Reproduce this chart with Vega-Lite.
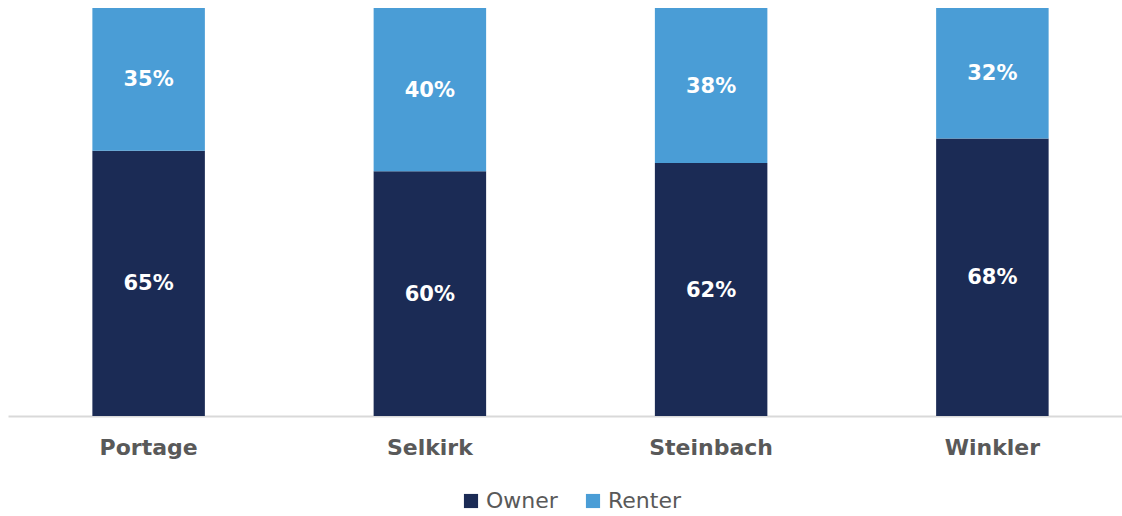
{
  "$schema": "https://vega.github.io/schema/vega-lite/v6.json",
  "width": 1125,
  "height": 408,
  "padding": {"left": 8, "top": 8, "right": 0, "bottom": 0},
  "background": "white",
  "config": {
    "view": {"stroke": null},
    "font": "DejaVu Sans",
    "legend": {"layout": {"bottom": {"anchor": "middle"}}}
  },
  "data": {"values": [
    {"city": "Portage", "tenure": "Owner", "k": 1, "pct": 65},
    {"city": "Portage", "tenure": "Renter", "k": 2, "pct": 35},
    {"city": "Selkirk", "tenure": "Owner", "k": 1, "pct": 60},
    {"city": "Selkirk", "tenure": "Renter", "k": 2, "pct": 40},
    {"city": "Steinbach", "tenure": "Owner", "k": 1, "pct": 62},
    {"city": "Steinbach", "tenure": "Renter", "k": 2, "pct": 38},
    {"city": "Winkler", "tenure": "Owner", "k": 1, "pct": 68},
    {"city": "Winkler", "tenure": "Renter", "k": 2, "pct": 32}
  ]},
  "transform": [
    {"stack": "pct", "groupby": ["city"], "sort": [{"field": "k", "order": "ascending"}], "as": ["y0", "y1"]},
    {"calculate": "(datum.y0 + datum.y1) / 2", "as": "mid"},
    {"calculate": "datum.pct + '%'", "as": "lab"}
  ],
  "encoding": {
    "x": {
      "field": "city", "type": "nominal", "sort": null, "title": null,
      "scale": {"paddingInner": 0.6, "paddingOuter": 0.3},
      "axis": {
        "labelAngle": 0, "labelFontSize": 22, "labelFontWeight": "bold", "labelColor": "#595959",
        "labelFont": "DejaVu Sans", "labelPadding": 21, "ticks": false, "domainColor": "#d9d9d9", "domainWidth": 2
      }
    }
  },
  "layer": [
    {
      "mark": {"type": "bar"},
      "encoding": {
        "y": {"field": "y0", "type": "quantitative", "scale": {"domain": [0, 100], "nice": false}, "axis": null},
        "y2": {"field": "y1"},
        "color": {
          "field": "tenure", "type": "nominal", "title": null,
          "scale": {"domain": ["Owner", "Renter"], "range": ["#1b2b55", "#4a9dd6"]},
          "legend": {
            "orient": "bottom", "direction": "horizontal", "symbolType": "square", "symbolSize": 200,
            "symbolStrokeWidth": 0, "labelFontSize": 22, "labelColor": "#595959", "labelFont": "DejaVu Sans",
            "columnPadding": 24, "labelOffset": 4, "offset": 32
          }
        }
      }
    },
    {
      "mark": {"type": "text", "color": "white", "fontSize": 21, "fontWeight": "bold", "font": "DejaVu Sans", "baseline": "middle", "dy": 1},
      "encoding": {
        "y": {"field": "mid", "type": "quantitative"},
        "text": {"field": "lab"}
      }
    }
  ]
}
